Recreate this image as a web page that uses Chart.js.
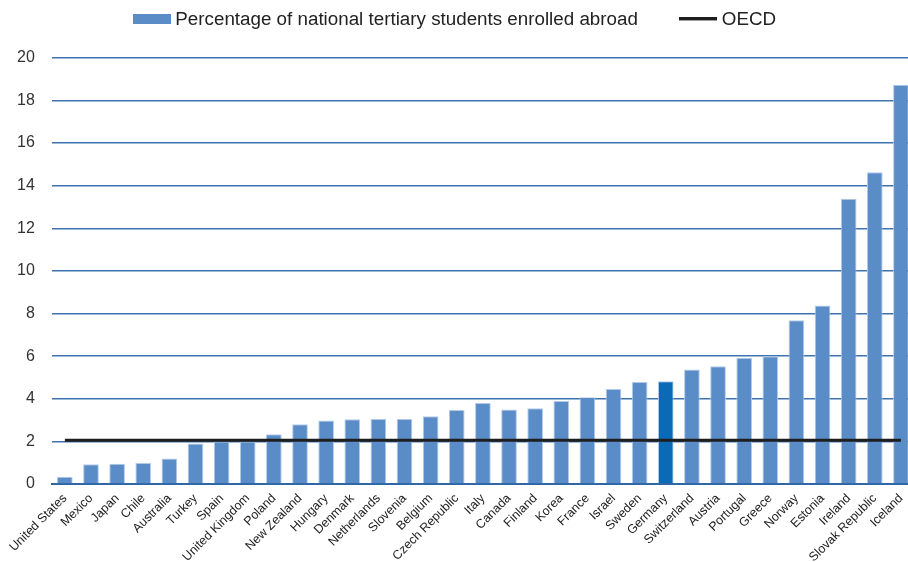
<!DOCTYPE html>
<html>
<head>
<meta charset="utf-8">
<script src="https://cdn.jsdelivr.net/npm/chart.js@4.4.1/dist/chart.umd.min.js"></script>
<style>
  html, body { margin: 0; padding: 0; overflow: hidden; background: #fff; }
  #wrap { width: 916px; height: 562px; position: relative; }
</style>
</head>
<body>
<div id="wrap"><canvas id="chart"></canvas></div>
<script>
// values (% of national tertiary students enrolled abroad)
const countries = [
  'United States', 'Mexico', 'Japan', 'Chile', 'Australia', 'Turkey', 'Spain',
  'United Kingdom', 'Poland', 'New Zealand', 'Hungary', 'Denmark', 'Netherlands',
  'Slovenia', 'Belgium', 'Czech Republic', 'Italy', 'Canada', 'Finland', 'Korea',
  'France', 'Israel', 'Sweden', 'Germany', 'Switzerland', 'Austria', 'Portugal',
  'Greece', 'Norway', 'Estonia', 'Ireland', 'Slovak Republic', 'Iceland'
];
const abroadShare = [
  0.34, 0.93, 0.95, 0.99, 1.2, 1.9, 2.0,
  2.0, 2.34, 2.8, 2.98, 3.04, 3.05,
  3.05, 3.18, 3.47, 3.8, 3.5, 3.55, 3.9,
  4.07, 4.46, 4.79, 4.82, 5.37, 5.53, 5.93,
  6.0, 7.68, 8.38, 13.38, 14.63, 18.74
];
const oecdAverage = 2.05;
const highlighted = 'Germany';

const barLabel = 'Percentage of national tertiary students enrolled abroad';
const lineLabel = 'OECD';

const barColor = '#5a8cc8';
const highlightColor = '#0a6ab6';
const lineColor = '#1e1e1e';
const gridColor = '#3f73ad';
const fontFamily = "'Liberation Sans', Arial, sans-serif";

// small canvases used as legend swatches
function swatch(w, h, draw) {
  const c = document.createElement('canvas');
  c.width = w;
  c.height = h;
  draw(c.getContext('2d'));
  return c;
}
const barSwatch = swatch(38, 10, g => { g.fillStyle = barColor; g.fillRect(0, 0, 38, 10); });
const lineSwatch = swatch(38, 4, g => { g.fillStyle = lineColor; g.fillRect(0, 0, 38, 3); });

// extra room between the legend and the plot
const legendGap = {
  id: 'legendGap',
  beforeInit(chart) {
    const fit = chart.legend.fit;
    chart.legend.fit = function () {
      fit.bind(chart.legend)();
      this.height += 19;
    };
  }
};

const ctx = document.getElementById('chart');
new Chart(ctx, {
  type: 'bar',
  data: {
    labels: countries,
    datasets: [
      {
        type: 'line',
        label: lineLabel,
        data: countries.map(() => oecdAverage),
        borderColor: lineColor,
        borderWidth: 3,
        pointRadius: 0,
        fill: false,
        order: 0
      },
      {
        type: 'bar',
        label: barLabel,
        data: abroadShare,
        backgroundColor: countries.map(c => c === highlighted ? highlightColor : barColor),
        borderColor: '#b3cbe8',
        borderWidth: 1,
        barPercentage: 0.6,
        categoryPercentage: 1.0,
        order: 1
      }
    ]
  },
  plugins: [legendGap],
  options: {
    responsive: true,
    maintainAspectRatio: false,
    animation: false,
    layout: { padding: { left: 0, right: 2, top: 0, bottom: 0 } },
    plugins: {
      tooltip: { enabled: false },
      legend: {
        display: true,
        position: 'top',
        labels: {
          usePointStyle: true,
          pointStyleWidth: 28,
          padding: 10,
          color: '#222',
          font: { family: fontFamily, size: 18.8 },
          generateLabels: () => [
            { text: barLabel + '       ', pointStyle: barSwatch, datasetIndex: 1, hidden: false, fontColor: '#222' },
            { text: lineLabel, pointStyle: lineSwatch, datasetIndex: 0, hidden: false, fontColor: '#222' }
          ]
        }
      }
    },
    scales: {
      x: {
        offset: true,
        grid: { display: false, drawTicks: false },
        border: { display: true, color: '#2f66a6', width: 2 },
        ticks: {
          autoSkip: false,
          minRotation: 45,
          maxRotation: 45,
          padding: 7,
          color: '#222',
          font: { family: fontFamily, size: 12.5 }
        },
        afterFit: scale => {
          scale.paddingLeft = 0;
          scale.paddingRight = 0;
          scale.height = 78;
        }
      },
      y: {
        min: 0,
        max: 20,
        ticks: {
          stepSize: 2,
          padding: 17,
          color: '#333',
          font: { family: fontFamily, size: 16 }
        },
        grid: { color: gridColor, lineWidth: 1.5, drawTicks: false },
        border: { display: false }
      }
    }
  }
});
</script>
</body>
</html>
